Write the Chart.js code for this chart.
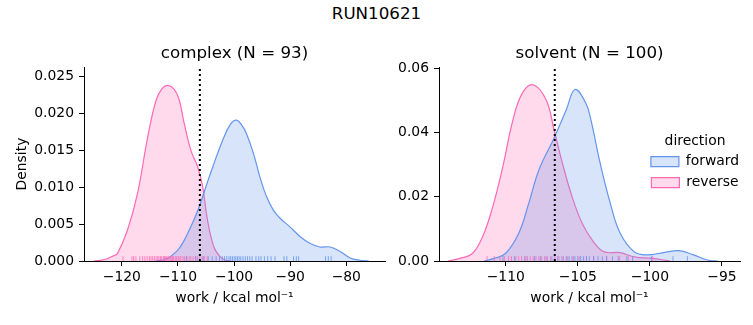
<!DOCTYPE html>
<html>
<head>
<meta charset="utf-8">
<script src="https://cdn.jsdelivr.net/npm/chart.js@4.4.1/dist/chart.umd.min.js"></script>
<style>
  body { margin: 0; background: #fff; width: 753px; height: 325px; overflow: hidden; position: relative; font-family: "DejaVu Sans"; }
  canvas { position: absolute; }
  #suptitle { position: absolute; left: 0; top: 0; width: 753px; text-align: center; font-size: 16.7px; line-height: 26px; color: #000; }
</style>
</head>
<body>
<div id="suptitle">RUN10621</div>
<canvas id="complex" width="400" height="325" style="left:0;top:0"></canvas>
<canvas id="solvent" width="368" height="325" style="left:385px;top:0"></canvas>
<canvas id="legend" width="120" height="180" style="left:635px;top:134px"></canvas>
<script>
// complex leg: kde curves (work, density)
const complexFwdX = [-114, -112, -110, -108.9, -107.5, -106.2, -104.2, -101.8, -100.6, -99.6, -98.6, -97.8, -96.55, -95.4, -94.2, -93, -91.8, -90, -88.2, -86.5, -84.7, -82.9, -81.1, -79.3, -77.6, -76];
const complexFwdY = [0, 0.0003, 0.0015, 0.0028, 0.005, 0.0074, 0.0119, 0.0168, 0.0186, 0.0191, 0.0184, 0.0173, 0.0146, 0.0114, 0.0087, 0.0069, 0.0058, 0.0046, 0.0033, 0.0024, 0.0019, 0.0019, 0.0013, 0.0004, 0.0001, 0];
const complexRevX = [-125, -123, -121.5, -120.8, -119, -117.2, -115.4, -113.9, -112.8, -111.8, -110.7, -109.8, -108.9, -107.7, -106.5, -105.6, -104.75, -103.6, -102.5, -101.5, -100.5];
const complexRevY = [0, 0.0002, 0.0007, 0.001, 0.0042, 0.0092, 0.0168, 0.0218, 0.0234, 0.0238, 0.0233, 0.0219, 0.0187, 0.015, 0.0128, 0.0101, 0.0056, 0.0019, 0.0006, 0.0001, 0];
const complexFwdRug = [-108.5, -106.8, -105.5, -104.6, -103.9, -103.2, -102.6, -102.1, -101.7, -101.3, -100.9, -100.6, -100.3, -100.0, -99.7, -99.4, -99.1, -98.8, -98.4, -98.0, -97.6, -97.2, -96.8, -96.1, -95.6, -95.2, -94.6, -94.0, -93.4, -92.7, -91.1, -90.6, -89.4, -88.9, -88.5, -83.7, -83.2, -82.7];
const complexRevRug = [-119.8, -118.2, -117.9, -117.5, -116.8, -116.3, -115.9, -115.5, -115.1, -114.8, -114.5, -114.2, -113.9, -113.6, -113.4, -113.1, -112.9, -112.6, -112.4, -112.2, -112.0, -111.8, -111.6, -111.4, -111.2, -111.0, -110.8, -110.5, -110.3, -110.0, -109.8, -109.5, -109.1, -108.8, -108.4, -108.0, -107.7, -107.3, -106.9, -106.5, -106.1, -105.7, -105.3, -104.8];
const complexMarker = -106.1;
const complexXTicks = [-120, -110, -100, -90, -80];
const complexYTicks = [0, 0.005, 0.01, 0.015, 0.02, 0.025];

// solvent leg
const solventFwdX = [-111.5, -110.8, -110, -109.1, -108.4, -107.7, -106.65, -105.8, -105.2, -104.45, -104.1, -103.45, -102.75, -102.06, -101.1, -100.2, -99.05, -98, -96.97, -96, -95.3];
const solventFwdY = [0, 0.0008, 0.0024, 0.0086, 0.018, 0.0283, 0.0382, 0.047, 0.0533, 0.0491, 0.044, 0.0304, 0.018, 0.0086, 0.0029, 0.0019, 0.0026, 0.0032, 0.0019, 0.0003, 0];
const solventRevX = [-114, -113.2, -112.3, -111.6, -110.9, -110.2, -109.5, -108.85, -108.1, -107.2, -106.65, -106.07, -105.4, -104.7, -104, -103.2, -102.06, -101.1, -99.75, -98.6];
const solventRevY = [0, 0.0008, 0.0024, 0.0076, 0.0169, 0.0294, 0.0439, 0.0522, 0.0548, 0.0501, 0.0408, 0.0304, 0.02, 0.0117, 0.0065, 0.0029, 0.0026, 0.0013, 0.0008, 0];
const solventFwdRug = [-110.2, -109.4, -108.6, -108.0, -107.6, -107.2, -106.8, -106.4, -106.1, -105.8, -105.6, -105.4, -105.2, -105.0, -104.8, -104.6, -104.4, -104.2, -103.9, -103.6, -103.3, -103.0, -102.6, -102.2, -101.6, -101.2, -99.9, -98.4, -97.4];
const solventRevRug = [-111.3, -110.8, -110.4, -110.1, -109.8, -109.6, -109.3, -109.1, -108.9, -108.7, -108.5, -108.3, -108.1, -107.9, -107.7, -107.5, -107.3, -107.1, -106.9, -106.6, -106.3, -106.0, -105.7, -105.3, -104.9, -104.4, -103.9, -103.0, -102.1, -101.5, -99.8];
const solventMarker = -106.6;
const solventXTicks = [-110, -105, -100, -95];
const solventYTicks = [0, 0.02, 0.04, 0.06];

const directions = ['forward', 'reverse'];

Chart.defaults.font.family = 'DejaVu Sans';
Chart.defaults.font.size = 13.9;
Chart.defaults.color = '#000';
Chart.defaults.animation = false;

const blue = '#6495ED', pink = '#FF69B4';
const blueFill = 'rgba(100,149,237,0.25)', pinkFill = 'rgba(255,105,180,0.25)';
const blueRug = 'rgba(100,149,237,0.8)', pinkRug = 'rgba(255,105,180,0.8)';

const minus = v => String(v).replace('-', '\u2212');
const toPoints = (xs, ys) => xs.map((x, i) => ({x: x, y: ys[i]}));

function kde(label, xs, ys, line, fill) {
  return {
    type: 'line', label: label, data: toPoints(xs, ys),
    borderColor: line, backgroundColor: fill, borderWidth: 1.2,
    fill: 'origin', pointRadius: 0, tension: 0.4
  };
}

// rug ticks sit on their own 0..1 axis, 2.5% of the axes high like seaborn
function rug(xs, color) {
  return {
    type: 'scatter', data: xs.map(x => ({x: x, y: 0.0125})), yAxisID: 'yRug',
    pointStyle: 'line', pointRotation: 90, pointRadius: 2.4, pointHoverRadius: 0,
    pointBorderColor: color, pointBorderWidth: 1
  };
}

function panel(id, title, fwd, rev, marker, xRange, yMax, xTicks, yTicks, dec, yWidth, padRight, yTitle) {
  new Chart(document.getElementById(id), {
    type: 'line',
    data: {
      datasets: [
        { type: 'line', data: [{x: marker, y: 0}, {x: marker, y: yMax}], borderColor: '#000',
          borderWidth: 2, borderDash: [2, 3], pointRadius: 0, fill: false },
        rug(fwd[2], blueRug),
        rug(rev[2], pinkRug),
        kde(directions[0], fwd[0], fwd[1], blue, blueFill),
        kde(directions[1], rev[0], rev[1], pink, pinkFill)
      ]
    },
    options: {
      responsive: false,
      events: [],
      layout: { padding: { left: 0, right: padRight, top: 0, bottom: 0 } },
      plugins: {
        legend: { display: false },
        tooltip: { enabled: false },
        title: { display: true, text: title, fullSize: false, color: '#000',
          font: { size: 16.7, weight: 'normal' }, padding: { top: 44, bottom: 3 } }
      },
      scales: {
        x: {
          type: 'linear', min: xRange[0], max: xRange[1],
          afterBuildTicks: s => { s.ticks = xTicks.map(v => ({value: v})); },
          afterFit: s => { s.height = 64; },
          ticks: { callback: v => minus(v), maxRotation: 0, autoSkip: false, padding: 3 },
          grid: { drawOnChartArea: false, drawTicks: true, tickLength: 5, tickColor: '#000', tickWidth: 1 },
          border: { display: true, color: '#000', width: 1 },
          title: { display: true, text: 'work / kcal mol\u207B\u00B9', padding: { top: 0, bottom: 18 } }
        },
        y: {
          type: 'linear', min: 0, max: yMax,
          afterBuildTicks: s => { s.ticks = yTicks.map(v => ({value: v})); },
          afterFit: s => { s.width = yWidth; },
          ticks: { callback: v => Number(v).toFixed(dec), padding: 5 },
          grid: { drawOnChartArea: false, drawTicks: true, tickLength: 5, tickColor: '#000', tickWidth: 1 },
          border: { display: true, color: '#000', width: 1 },
          title: { display: yTitle, text: 'Density', padding: { top: 13.7, bottom: 0 } }
        },
        yRug: { type: 'linear', axis: 'y', display: false, min: 0, max: 1 }
      }
    }
  });
}

panel('complex', 'complex (N = 93)',
  [complexFwdX, complexFwdY, complexFwdRug], [complexRevX, complexRevY, complexRevRug],
  complexMarker, [-126.75, -73.1], 0.0263, complexXTicks, complexYTicks, 3, 84, 15, true);

panel('solvent', 'solvent (N = 100)',
  [solventFwdX, solventFwdY, solventFwdRug], [solventRevX, solventRevY, solventRevRug],
  solventMarker, [-114.63, -93.75], 0.0603, solventXTicks, solventYTicks, 2, 54, 13, false);

// legend lives in its own small chart so it can overlap the solvent axes
new Chart(document.getElementById('legend'), {
  type: 'line',
  data: {
    datasets: [
      { label: directions[0], data: [], borderColor: blue, backgroundColor: blueFill, borderWidth: 1.2 },
      { label: directions[1], data: [], borderColor: pink, backgroundColor: pinkFill, borderWidth: 1.2 }
    ]
  },
  options: {
    responsive: false,
    events: [],
    layout: { padding: 0 },
    scales: { x: { display: false }, y: { display: false } },
    plugins: {
      tooltip: { enabled: false },
      legend: {
        display: true, position: 'top', align: 'center',
        title: { display: true, text: 'direction', color: '#000', font: { size: 13.9 }, padding: { top: 0, bottom: -3 } },
        labels: { boxWidth: 28, boxHeight: 10, padding: 7, color: '#000', font: { size: 13.9 } }
      }
    }
  }
});
</script>
</body>
</html>
